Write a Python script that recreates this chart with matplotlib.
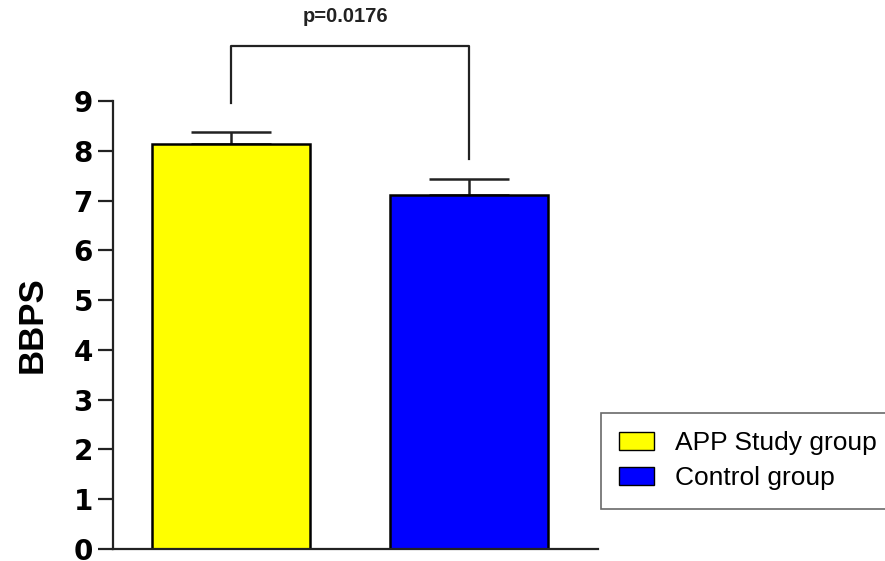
import matplotlib
matplotlib.use("Agg")
import matplotlib.pyplot as plt
from matplotlib.patches import Patch

plt.rcParams['font.family'] = ['Liberation Sans', 'DejaVu Sans']

groups = ["APP Study group", "Control group"]
means = [8.13, 7.12]
sem = [0.24, 0.31]
colors = ["#ffff00", "#0000ff"]
p_text = "p=0.0176"
bracket_top = 10.1
bracket_legs = [8.96, 7.83]

fig = plt.figure(figsize=(8.85, 5.61), dpi=100)
ax = fig.add_axes([0.1277, 0.0214, 0.548, 0.7986])

x = [0, 1]
ax.bar(x, means, width=0.664, color=colors, edgecolor="black", linewidth=1.8, zorder=2)
ax.errorbar(x, means, yerr=[[0, 0], sem], fmt="none", ecolor="#222222",
            elinewidth=1.8, capsize=29, capthick=1.8, zorder=1)

# significance bracket
ax.plot([x[0], x[0], x[1], x[1]],
        [bracket_legs[0], bracket_top, bracket_top, bracket_legs[1]],
        color="#222222", lw=1.6, clip_on=False)
ax.text((x[0] + x[1]) / 2 - 0.02, 10.5, p_text, ha="center", va="bottom",
        fontsize=14.5, fontweight="bold", color="#222222")

ax.set_xlim(-0.496, 1.542)
ax.set_ylim(0, 9)
ax.set_yticks(range(10))
ax.set_xticks([])
for s in ["top", "right"]:
    ax.spines[s].set_visible(False)
for s in ["left", "bottom"]:
    ax.spines[s].set_linewidth(1.6)
    ax.spines[s].set_color("#222222")
ax.tick_params(axis="y", length=11, width=1.6, color="#222222", labelsize=20, pad=3.5)
for lab in ax.get_yticklabels():
    lab.set_fontweight("bold")
    lab.set_family("DejaVu Sans")
ax.set_ylabel("BBPS", fontsize=25, fontweight="bold", labelpad=18)

handles = [Patch(facecolor=c, edgecolor="black", label=g) for c, g in zip(colors, groups)]
leg = fig.legend(handles=handles, loc="upper left", bbox_to_anchor=(0.679, 0.2638),
                 frameon=True, fancybox=False, edgecolor="#444444", fontsize=19,
                 handlelength=1.33, handleheight=0.65, handletextpad=0.76,
                 borderpad=0.7, labelspacing=0.4, borderaxespad=0)
leg.get_frame().set_linewidth(1.2)

fig.savefig("out.png", dpi=100)
